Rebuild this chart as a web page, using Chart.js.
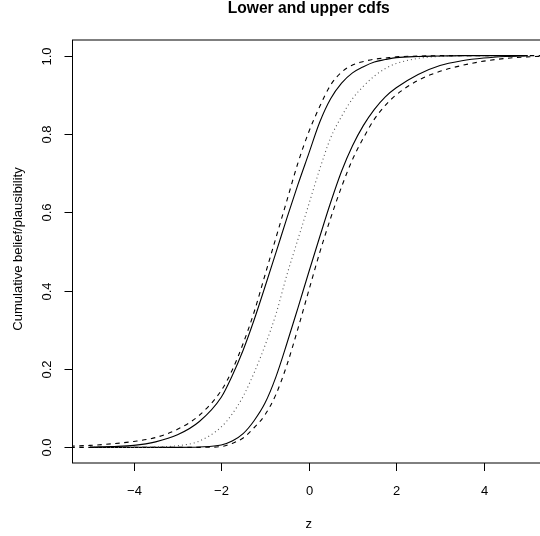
<!DOCTYPE html>
<html>
<head>
<meta charset="utf-8">
<title>Lower and upper cdfs</title>
<script src="https://cdn.jsdelivr.net/npm/chart.js@4.4.1/dist/chart.umd.min.js"></script>
<style>
    html, body { margin: 0; padding: 0; background: #ffffff; overflow: hidden; }
    #wrap { width: 548px; height: 536px; }
</style>
</head>
<body>
<div id="wrap"><canvas id="cdfChart" width="548" height="536"></canvas></div>
<script>
// grid of z values the curves were read at
const zValues = [-5.45, -5, -4.5, -4, -3.5, -3, -2.5, -2, -1.75, -1.5, -1.25, -1, -0.75, -0.5, -0.25,
    0, 0.25, 0.5, 0.75, 1, 1.25, 1.5, 1.75, 2, 2.5, 3, 3.5, 4, 4.5, 5, 5.45];

// outer dashed curves
const upperDashed = [0.003, 0.005, 0.009, 0.015, 0.025, 0.046, 0.082, 0.145, 0.197, 0.265, 0.345, 0.44, 0.535, 0.63, 0.725,
    0.805, 0.87, 0.925, 0.958, 0.976, 0.985, 0.991, 0.994, 0.997, 0.999, 1, 1, 1, 1, 1, 1];
const lowerDashed = [0, 0, 0, 0, 0, 0, 0, 0.002, 0.01, 0.024, 0.05, 0.083, 0.135, 0.21, 0.302,
    0.4, 0.497, 0.585, 0.665, 0.735, 0.79, 0.838, 0.873, 0.9, 0.937, 0.96, 0.975, 0.986, 0.993, 0.997, 0.999];

// solid curves
const upperSolid = [null, 0, 0.002, 0.005, 0.014, 0.032, 0.066, 0.128, 0.183, 0.248, 0.325, 0.41, 0.497, 0.585, 0.67,
    0.75, 0.83, 0.89, 0.93, 0.956, 0.972, 0.984, 0.99, 0.995, 0.998, 0.999, 1, 1, 1, 1, null];
const lowerSolid = [null, 0, 0, 0, 0, 0, 0.001, 0.006, 0.016, 0.035, 0.068, 0.113, 0.18, 0.265, 0.355,
    0.447, 0.537, 0.625, 0.705, 0.77, 0.822, 0.863, 0.895, 0.918, 0.952, 0.975, 0.987, 0.994, 0.998, 1, null];

// dotted middle curve
const middleDotted = [null, 0, 0, 0, 0.001, 0.004, 0.016, 0.052, 0.085, 0.13, 0.19, 0.26, 0.34, 0.44, 0.53,
    0.62, 0.71, 0.79, 0.845, 0.89, 0.922, 0.948, 0.967, 0.98, 0.993, 0.998, 1, 1, 1, 1, null];

const xTicks = [-4, -2, 0, 2, 4];
const xTickLabels = ['\u22124', '\u22122', '0', '2', '4'];
const yTicks = [0, 0.2, 0.4, 0.6, 0.8, 1.0];
const yTickLabels = ['0.0', '0.2', '0.4', '0.6', '0.8', '1.0'];

function toPoints(ys) {
    return zValues.map(function (z, i) { return { x: z, y: ys[i] }; });
}

function curve(ys, dash, color) {
    return {
        data: toPoints(ys),
        borderColor: color,
        borderWidth: 1.1,
        borderDash: dash,
        pointRadius: 0,
        showLine: true,
        fill: false,
        spanGaps: false,
        cubicInterpolationMode: 'monotone'
    };
}

// R style frame, ticks and labels
const rAxes = {
    id: 'rAxes',
    afterDraw: function (chart) {
        const ctx = chart.ctx;
        const a = chart.chartArea;
        const xs = chart.scales.x;
        const ys = chart.scales.y;
        ctx.save();
        ctx.strokeStyle = '#000000';
        ctx.lineWidth = 1;
        ctx.strokeRect(a.left, a.top, a.right - a.left, a.bottom - a.top);

        ctx.fillStyle = '#000000';
        ctx.font = '13px "Liberation Sans", Arial, sans-serif';
        ctx.textAlign = 'center';
        ctx.textBaseline = 'alphabetic';

        xs.ticks.forEach(function (t, i) {
            const px = Math.round(xs.getPixelForValue(t.value)) + 0.5;
            ctx.beginPath();
            ctx.moveTo(px, a.bottom);
            ctx.lineTo(px, a.bottom + 8);
            ctx.stroke();
            ctx.fillText(xTickLabels[i], px, 495);
        });

        ys.ticks.forEach(function (t, i) {
            const py = Math.round(ys.getPixelForValue(t.value)) + 0.5;
            ctx.beginPath();
            ctx.moveTo(a.left, py);
            ctx.lineTo(a.left - 8, py);
            ctx.stroke();
            ctx.save();
            ctx.translate(51, py);
            ctx.rotate(-Math.PI / 2);
            ctx.fillText(yTickLabels[i], 0, 0);
            ctx.restore();
        });

        ctx.fillText('z', (a.left + a.right) / 2, 528);

        ctx.save();
        ctx.translate(21.5, 249);
        ctx.rotate(-Math.PI / 2);
        ctx.fillText('Cumulative belief/plausibility', 0, 0);
        ctx.restore();

        ctx.font = 'bold 15.6px "Liberation Sans", Arial, sans-serif';
        ctx.fillText('Lower and upper cdfs', (a.left + a.right) / 2, 13);
        ctx.restore();
    }
};

var ctx = document.getElementById('cdfChart').getContext('2d');
var cdfChart = new Chart(ctx, {
    type: 'scatter',
    data: {
        datasets: [
            curve(upperDashed, [4.5, 4.5], '#000000'),
            curve(upperSolid, [], '#000000'),
            curve(middleDotted, [1, 3], '#555555'),
            curve(lowerSolid, [], '#000000'),
            curve(lowerDashed, [4.5, 4.5], '#000000')
        ]
    },
    options: {
        responsive: false,
        devicePixelRatio: 1,
        animation: false,
        layout: { padding: { left: 72.5, top: 40, right: 3, bottom: 73 } },
        plugins: {
            legend: { display: false },
            tooltip: { enabled: false }
        },
        scales: {
            x: {
                type: 'linear',
                display: false,
                min: -5.4,
                max: 5.4,
                afterBuildTicks: function (scale) {
                    scale.ticks = xTicks.map(function (v) { return { value: v }; });
                }
            },
            y: {
                type: 'linear',
                display: false,
                min: -0.04,
                max: 1.04,
                afterBuildTicks: function (scale) {
                    scale.ticks = yTicks.map(function (v) { return { value: v }; });
                }
            }
        }
    },
    plugins: [rAxes]
});
</script>
</body>
</html>
